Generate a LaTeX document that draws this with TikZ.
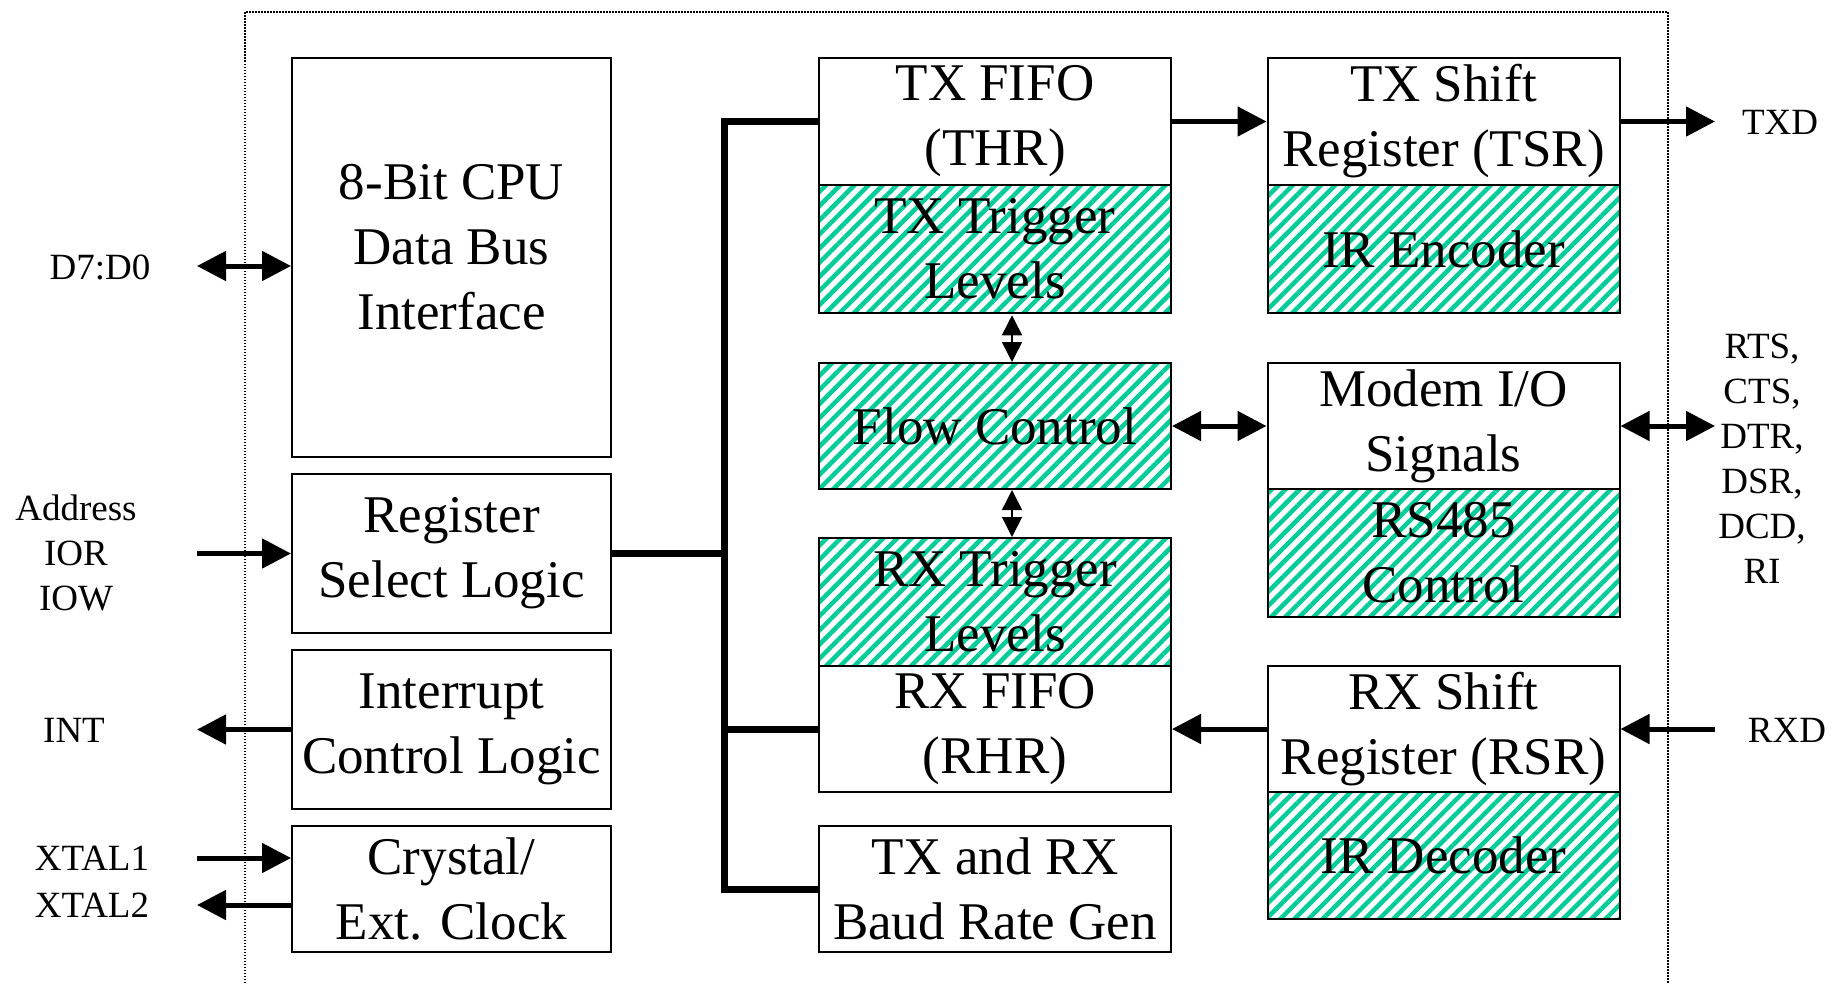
\documentclass[tikz,border=0pt]{standalone}
\usepackage{fontspec}
\setmainfont{Liberation Serif}
\usetikzlibrary{arrows.meta, patterns.meta}
\definecolor{hatchgreen}{RGB}{0,204,153}
\tikzset{
  blk/.style={draw, line width=2pt, inner sep=0pt, align=center, font=\fontsize{53}{65}\selectfont},
  lblk/.style={blk, minimum width=319pt},
  mblk/.style={blk, minimum width=352pt},
  hatched/.style={pattern={Lines[angle=45, distance=10pt, line width=4.5pt]}, pattern color=hatchgreen},
  sig/.style={inner sep=0pt, align=center, font=\fontsize{37}{45}\selectfont},
  bigarr/.style={line width=5pt, -{Triangle[length=29pt,width=29pt]}},
  bigdbl/.style={line width=5pt, {Triangle[length=29pt,width=29pt]}-{Triangle[length=29pt,width=29pt]}},
  smalldbl/.style={line width=1.5pt, {Triangle[length=20pt,width=20pt]}-{Triangle[length=20pt,width=20pt]}},
  bus/.style={line width=7pt},
}
\begin{document}
\begin{tikzpicture}[x=1pt, y=-1pt]
\useasboundingbox (0,0) rectangle (1846,983);
% chip outline
\draw[line width=1.5pt, dash pattern=on 1.5pt off 1.5pt] (245,983) -- (245,12) -- (1668,12) -- (1668,983);

% left column
\node[lblk, minimum height=399pt, text depth=22pt] (cpu) at (451.5,257.5) {8-Bit CPU\\Data Bus\\Interface};
\node[lblk, minimum height=159pt] (regsel) at (451.5,553.5) {Register\\Select Logic};
\node[lblk, minimum height=159pt] (intr) at (451.5,729.5) {Interrupt\\Control Logic};
\node[lblk, minimum height=126pt] (xtal) at (451.5,889) {Crystal/\\Ext. Clock};

% middle column
\node[mblk, minimum height=127pt] (txfifo) at (995,121.5) {TX FIFO\\(THR)};
\node[mblk, hatched, minimum height=128pt] (txtrig) at (995,249) {TX Trigger\\Levels};
\node[mblk, hatched, minimum height=126pt] (flow) at (995,426) {Flow Control};
\node[mblk, hatched, minimum height=128pt] (rxtrig) at (995,602) {RX Trigger\\Levels};
\node[mblk, minimum height=126pt] (rxfifo) at (995,729) {RX FIFO\\(RHR)};
\node[mblk, minimum height=126pt] (baud) at (995,889) {TX and RX\\Baud Rate Gen};

% right column
\node[mblk, minimum height=127pt] (tsr) at (1443.5,121.5) {TX Shift\\Register (TSR)};
\node[mblk, hatched, minimum height=128pt] (irenc) at (1443.5,249) {IR Encoder};
\node[mblk, minimum height=126pt] (modem) at (1443.5,426) {Modem I/O\\Signals};
\node[mblk, hatched, minimum height=128pt] (rs485) at (1443.5,553) {RS485\\Control};
\node[mblk, minimum height=126pt] (rsr) at (1443.5,729) {RX Shift\\Register (RSR)};
\node[mblk, hatched, minimum height=127pt] (irdec) at (1443.5,855.5) {IR Decoder};

% internal bus
\coordinate (busx) at (724,0);
\draw[bus] (txfifo.west) -| (busx |- baud.west) -- (baud.west);
\draw[bus] (regsel.east) -- (regsel.east -| busx);
\draw[bus] (rxfifo.west) -- (rxfifo.west -| busx);

% internal arrows
\draw[bigarr] (txfifo.east) -- (tsr.west);
\draw[bigdbl] (flow.east) -- (modem.west);
\draw[bigarr] (rsr.west) -- (rxfifo.east);
\draw[smalldbl] ([xshift=17pt]txtrig.south) -- ([xshift=17pt]flow.north);
\draw[smalldbl] ([xshift=17pt]flow.south) -- ([xshift=17pt]rxtrig.north);

% left pins
\coordinate (lft) at (197,0);
\coordinate (d7) at (197,266);
\coordinate (x1) at (197,858);
\coordinate (x2) at (197,905);
\node[sig] (d7lbl) at (100,267) {D7:D0};
\node[sig] (addrlbl) at (76,553) {Address\\IOR\\IOW};
\node[sig] (intlbl) at (74,730) {INT};
\node[sig] (x1lbl) at (92,858) {XTAL1};
\node[sig] (x2lbl) at (92,905) {XTAL2};
\draw[bigdbl] (d7) -- (d7 -| cpu.west);
\draw[bigarr] (regsel.west -| lft) -- (regsel.west);
\draw[bigarr] (intr.west) -- (intr.west -| lft);
\draw[bigarr] (x1) -- (x1 -| xtal.west);
\draw[bigarr] (x2 -| xtal.west) -- (x2);

% right pins
\coordinate (rgt) at (1715,0);
\node[sig] (txdlbl) at (1780,122) {TXD};
\node[sig] (modemlbl) at (1762,459) {RTS,\\CTS,\\DTR,\\DSR,\\DCD,\\RI};
\node[sig] (rxdlbl) at (1787,730) {RXD};
\draw[bigarr] (tsr.east) -- (tsr.east -| rgt);
\draw[bigdbl] (modem.east) -- (modem.east -| rgt);
\draw[bigarr] (rsr.east -| rgt) -- (rsr.east);
\end{tikzpicture}
\end{document}
